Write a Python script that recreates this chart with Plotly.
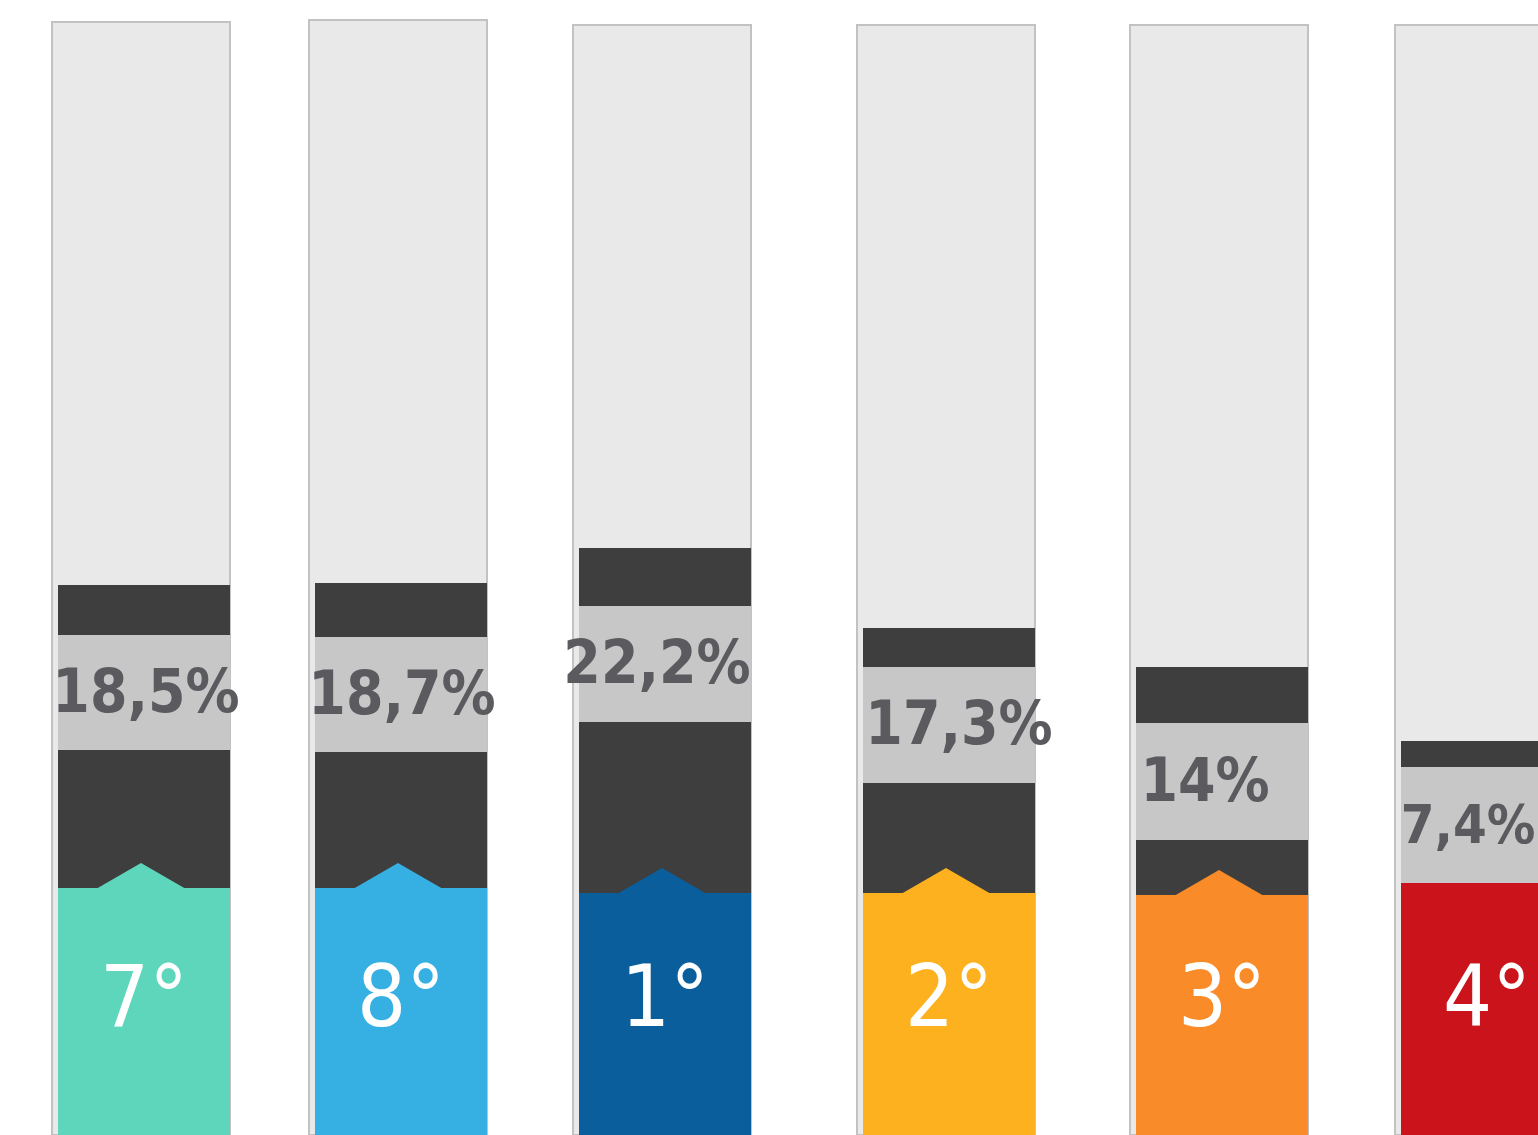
import plotly.graph_objects as go

# ---- data ----
ranks = ["7°", "8°", "1°", "2°", "3°", "4°"]
pct_values = [18.5, 18.7, 22.2, 17.3, 14.0, 7.4]
pct_labels = ["18,5%", "18,7%", "22,2%", "17,3%", "14%", "7,4%"]
colors = ["#5ed6bc", "#36b0e2", "#0b5e9c", "#fdb11f", "#f98c28", "#cb131b"]

# stylised segment heights (pixels from bottom)
colored_top = [247, 247, 242, 242, 240, 252]
dark_low_top = [385, 383, 413, 352, 295, 252]
band_top = [500, 498, 529, 468, 412, 368]
dark_up_top = [550, 552, 587, 507, 468, 394]
bg_top = [1113, 1115, 1110, 1110, 1110, 1110]

# ---- layout constants ----
W, H = 1538, 1135
centers = [141, 398, 662, 946, 1219, 1484]
label_dx = [5, 4, -5, 13, -14, -16]
label_size = [60, 60, 60, 60, 60, 54]
BG_W = 178
IN_W = 172
IN_OFF = 3
PEAK_HW = 45
PEAK_H = 25
DARK = "#3e3e3e"
BAND = "#c7c7c7"
LIGHT = "#e9e9e9"
FONT = "Liberation Sans Narrow, DejaVu Sans, sans-serif"

fig = go.Figure()
inner_x = [c + IN_OFF for c in centers]

# background column
fig.add_trace(go.Bar(x=centers, y=bg_top, base=0, width=BG_W,
                     marker=dict(color=LIGHT, line=dict(color="#c2c2c2", width=2)),
                     hoverinfo="skip", showlegend=False))
# upper dark
fig.add_trace(go.Bar(x=inner_x, y=[t - b for t, b in zip(dark_up_top, band_top)], base=band_top,
                     width=IN_W, marker=dict(color=DARK, line=dict(width=0)),
                     hoverinfo="skip", showlegend=False))
# gray band
fig.add_trace(go.Bar(x=inner_x, y=[t - b for t, b in zip(band_top, dark_low_top)], base=dark_low_top,
                     width=IN_W, marker=dict(color=BAND, line=dict(width=0)),
                     hoverinfo="skip", showlegend=False))
# lower dark
fig.add_trace(go.Bar(x=inner_x, y=[t - b for t, b in zip(dark_low_top, colored_top)], base=colored_top,
                     width=IN_W, marker=dict(color=DARK, line=dict(width=0)),
                     hoverinfo="skip", showlegend=False))
# colored base
fig.add_trace(go.Bar(x=inner_x, y=colored_top, base=0, width=IN_W,
                     marker=dict(color=colors, line=dict(width=0)),
                     customdata=pct_values, hovertemplate="%{customdata}%<extra></extra>",
                     showlegend=False))

# peaks
for i, (c, top, col) in enumerate(zip(centers, colored_top, colors)):
    if dark_low_top[i] - top < 5:
        continue
    fig.add_trace(go.Scatter(x=[c - PEAK_HW, c, c + PEAK_HW, c - PEAK_HW],
                             y=[top - 1, top + PEAK_H, top - 1, top - 1],
                             fill="toself", fillcolor=col, mode="lines",
                             line=dict(width=0, color=col), hoverinfo="skip", showlegend=False))

# percentage labels
fig.add_trace(go.Scatter(x=[c + d for c, d in zip(centers, label_dx)],
                         y=[(a + b) / 2 - 4 for a, b in zip(band_top, dark_low_top)],
                         mode="text", text=pct_labels,
                         textfont=dict(family=FONT, size=label_size, color="#5b5b5f", weight="bold"),
                         hoverinfo="skip", showlegend=False))
# rank labels
fig.add_trace(go.Scatter(x=[c + 3 for c in centers], y=[131] * len(centers),
                         mode="text", text=ranks,
                         textfont=dict(family=FONT, size=86, color="#ffffff"),
                         hoverinfo="skip", showlegend=False))

fig.update_layout(width=W, height=H, margin=dict(l=0, r=0, t=0, b=0),
                  paper_bgcolor="white", plot_bgcolor="white",
                  barmode="overlay", bargap=0,
                  xaxis=dict(range=[0, W], visible=False, fixedrange=True),
                  yaxis=dict(range=[0, H], visible=False, fixedrange=True))

post = (
    "document.body.style.margin='0';"
    "document.body.style.overflow='hidden';"
    "var s=document.createElement('style');"
    "s.textContent='.textpoint text{font-stretch:condensed !important;}';"
    "document.head.appendChild(s);"
)
fig.write_html("out.html", post_script=post, config={"displayModeBar": False})
